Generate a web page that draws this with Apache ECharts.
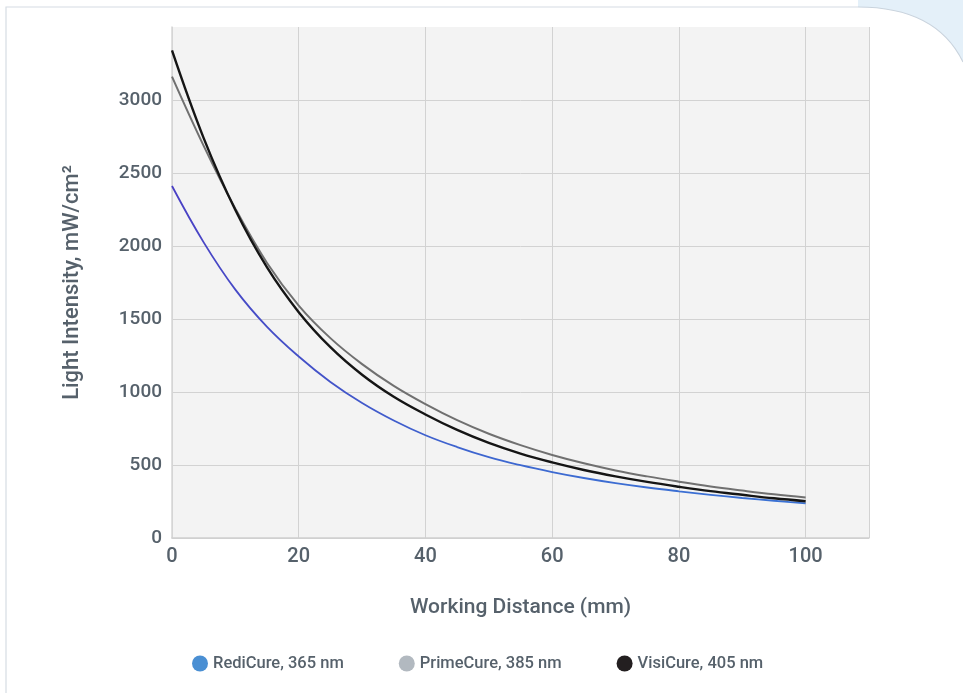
<!DOCTYPE html>
<html>
<head>
<meta charset="utf-8">
<script src="https://cdn.jsdelivr.net/npm/echarts@6/dist/echarts.min.js"></script>
<style>
html,body{margin:0;padding:0;background:#fff;}
#chart{width:963px;height:693px;}
</style>
</head>
<body>
<div id="chart"></div>
<script>
const distances = [0,5,10,15,20,25,30,35,40,45,50,55,60,65,70,75,80,85,90,95,100];
const rediCure  = [2411,2025,1701,1446,1243,1069,925,805,704,623,554,499,452,411,376,346,320,296,274,255,237];
const primeCure = [3160,2686,2256,1884,1592,1369,1191,1042,917,807,714,636,569,512,463,422,386,353,325,299,277];
const visiCure  = [3340,2739,2246,1853,1547,1307,1118,967,846,740,651,578,518,466,422,384,351,321,296,272,252];
const seriesNames = ['RediCure, 365 nm','PrimeCure, 385 nm','VisiCure, 405 nm'];
const xTicks = [0,20,40,60,80,100];
const yTicks = [0,500,1000,1500,2000,2500,3000];

const FONT = 'Roboto';
const TXT = '#56616b';
function pairs(arr){ return distances.map((d,i)=>[d,arr[i]]); }

// decorative corner curve (card edge)
const P0=[858,7], C1=[910,7], C2=[945,25], P3=[963,62];
function bez(t){
  const u=1-t;
  return [u*u*u*P0[0]+3*u*u*t*C1[0]+3*u*t*t*C2[0]+t*t*t*P3[0],
          u*u*u*P0[1]+3*u*u*t*C1[1]+3*u*t*t*C2[1]+t*t*t*P3[1]];
}
const cornerPts=[[858,0],[963,0]];
for(let i=20;i>=0;i--) cornerPts.push(bez(i/20));

const chart = echarts.init(document.getElementById('chart'), null, {renderer:'canvas'});
chart.setOption({
  backgroundColor:'#ffffff',
  animation:false,
  graphic:[
    {type:'polygon', silent:true, z:0, shape:{points:cornerPts}, style:{fill:'#e4f0f9'}},
    {type:'polyline', silent:true, z:1, shape:{points:[[6,693],[6,7],[858,7]]},
      style:{fill:null, stroke:'#d6dce3', lineWidth:1.2}},
    {type:'bezierCurve', silent:true, z:1,
      shape:{x1:P0[0],y1:P0[1],cpx1:C1[0],cpy1:C1[1],cpx2:C2[0],cpy2:C2[1],x2:P3[0],y2:P3[1]},
      style:{fill:null, stroke:'#c9d3dd', lineWidth:1.2}}
  ],
  grid:{left:172, right:94, top:27, bottom:155, show:true, backgroundColor:'#f3f3f3', borderWidth:0},
  legend:{
    bottom:16, left:187, icon:'circle', itemWidth:16, itemHeight:16, itemGap:55,
    textStyle:{fontFamily:FONT, fontSize:16.5, fontWeight:500, color:TXT},
    data:seriesNames
  },
  xAxis:{
    type:'value', min:0, max:110, interval:20,
    name:'Working Distance (mm)', nameLocation:'middle', nameGap:59,
    nameTextStyle:{fontFamily:FONT, fontSize:21, fontWeight:500, color:TXT},
    axisLine:{show:true, lineStyle:{color:'#cfcfcf', width:1.5}},
    axisTick:{show:false},
    axisLabel:{fontFamily:FONT, fontSize:20, fontWeight:500, color:TXT, margin:9,
      formatter:v=> xTicks.includes(v)? String(v):''},
    splitLine:{show:true, lineStyle:{color:'#d2d2d2', width:1}}
  },
  yAxis:{
    type:'value', min:0, max:3500, interval:500,
    name:'Light Intensity, mW/cm²', nameLocation:'middle', nameGap:89,
    nameTextStyle:{fontFamily:FONT, fontSize:22, fontWeight:500, color:TXT},
    axisLine:{show:true, lineStyle:{color:'#d6d6d6', width:1.5}},
    axisTick:{show:false},
    axisLabel:{fontFamily:FONT, fontSize:19, fontWeight:500, color:TXT, margin:10,
      formatter:v=> yTicks.includes(v)? String(v):''},
    splitLine:{show:true, lineStyle:{color:['#d2d2d2','#d2d2d2','#d2d2d2','#d2d2d2','#d2d2d2','#d2d2d2','#d2d2d2','rgba(0,0,0,0)']}}
  },
  series:[
    {name:seriesNames[0], type:'line', data:pairs(rediCure), smooth:0.4, showSymbol:false,
      itemStyle:{color:'#4a8fd3'},
      lineStyle:{width:1.8, color:{type:'linear', x:0, y:0, x2:0, y2:1,
        colorStops:[{offset:0,color:'#4a3fc4'},{offset:0.6,color:'#4352c8'},{offset:1,color:'#3a72d4'}]}}, z:2},
    {name:seriesNames[1], type:'line', data:pairs(primeCure), smooth:0.4, showSymbol:false,
      itemStyle:{color:'#b2b9c0'}, lineStyle:{color:'#707070', width:2}, z:3},
    {name:seriesNames[2], type:'line', data:pairs(visiCure), smooth:0.4, showSymbol:false,
      itemStyle:{color:'#231f20'}, lineStyle:{color:'#151515', width:2.4}, z:4}
  ]
});
</script>
</body>
</html>
